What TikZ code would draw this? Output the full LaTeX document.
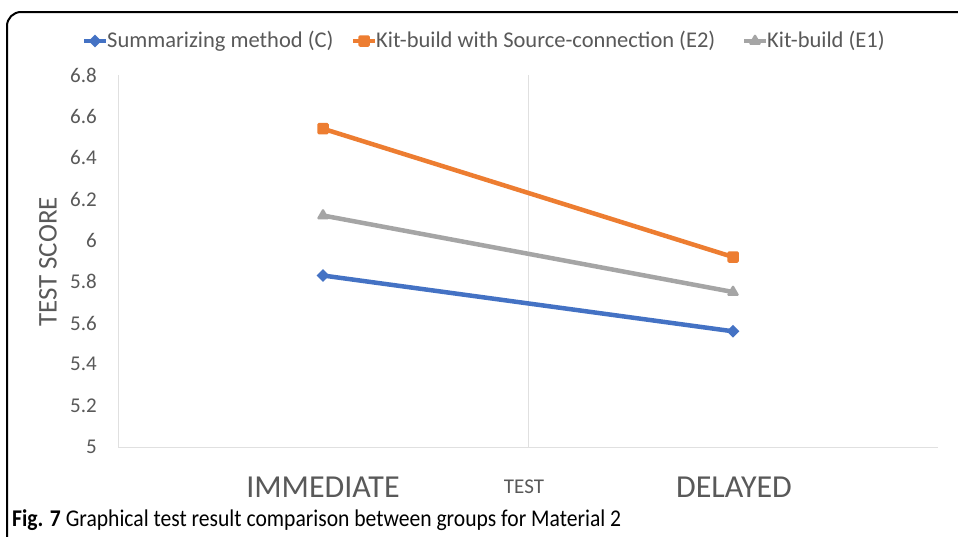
\documentclass[tikz,border=0pt]{standalone}
\usepackage{fontspec}
\setmainfont{Carlito}
\newfontfamily\capfont[FakeStretch=0.9]{Carlito}
\usetikzlibrary{shapes.geometric}
\definecolor{cblue}{HTML}{4472C4}
\definecolor{corange}{HTML}{ED7D31}
\definecolor{cgray}{HTML}{A5A5A5}
\definecolor{ctext}{HTML}{595959}
\definecolor{cgrid}{HTML}{E0E0E0}
\begin{document}
\begin{tikzpicture}[x=1pt,y=-1pt,
  tick/.style={anchor=east,text=ctext,font=\fontsize{21}{21}\selectfont,inner sep=0pt},
  series/.style={line width=4.5pt},
  mkdia/.style={diamond,fill=cblue,inner sep=0pt,minimum size=13pt},
  mksq/.style={rectangle,fill=corange,inner sep=0pt,minimum size=11.5pt,rounded corners=1.5pt},
  mktri/.style={regular polygon,regular polygon sides=3,fill=cgray,inner sep=0pt,minimum size=15pt,rounded corners=1.5pt},
  legtext/.style={anchor=west,text=ctext,font=\fontsize{22.5}{22.5}\selectfont,inner sep=0pt},
  cat/.style={text=ctext,font=\fontsize{32}{32}\selectfont,inner sep=0pt}]
\useasboundingbox (0,0) rectangle (958,536);
\fill[white] (0,0) rectangle (958,536);
% frame
\draw[line width=2pt,rounded corners=14pt] (975,12) -- (7,12) -- (7,560);
% plot area
\coordinate (pTL) at (118,75);
\coordinate (pBL) at (118,447);
\coordinate (pBR) at (938,447);
\coordinate (mTop) at (528,75);
\coordinate (mBot) at (528,447);
\draw[cgrid,line width=1pt] (pTL) -- (pBL) -- (pBR);
\draw[cgrid,line width=1pt] (mTop) -- (mBot);
% ticks
\node[tick] (t68) at (97,75) {6.8};
\node[tick] (t66) at (97,116.3) {6.6};
\node[tick] (t64) at (97,157.7) {6.4};
\node[tick] (t62) at (97,199) {6.2};
\node[tick] (t60) at (97,240.3) {6};
\node[tick] (t58) at (97,281.7) {5.8};
\node[tick] (t56) at (97,323) {5.6};
\node[tick] (t54) at (97,364.3) {5.4};
\node[tick] (t52) at (97,405.7) {5.2};
\node[tick] (t50) at (97,447) {5};
\node[rotate=90,text=ctext,font=\fontsize{27}{27}\selectfont,inner sep=0pt] (ytitle) at (48,262) {TEST SCORE};
% categories
\node[cat] (imm) at (323,487) {IMMEDIATE};
\node[cat] (del) at (734,487) {DELAYED};
\node[text=ctext,font=\fontsize{21}{21}\selectfont,inner sep=0pt] (xtitle) at (524,487) {TEST};
% data
\coordinate (o1) at (323,128.7);
\coordinate (o2) at (733,257);
\coordinate (g1) at (323,215.5);
\coordinate (g2) at (733,292);
\coordinate (b1) at (323,275.5);
\coordinate (b2) at (733,331.3);
\draw[series,cblue] (b1) -- (b2);
\draw[series,cgray] (g1) -- (g2);
\draw[series,corange] (o1) -- (o2);
\node[mkdia] (mb1) at (b1) {};
\node[mkdia] (mb2) at (b2) {};
\node[mktri] (mg1) at (g1) {};
\node[mktri] (mg2) at (g2) {};
\node[mksq] (mo1) at (o1) {};
\node[mksq] (mo2) at (o2) {};
% legend
\coordinate (lb1) at (84,41);
\coordinate (lb2) at (106,41);
\draw[series,cblue] (lb1) -- (lb2);
\node[mkdia] (lbm) at (95,41) {};
\node[legtext] (lbt) at (107,41) {Summarizing method (C)};
\coordinate (lo1) at (353,41);
\coordinate (lo2) at (375,41);
\draw[series,corange] (lo1) -- (lo2);
\node[mksq] (lom) at (364,41) {};
\node[legtext] (lot) at (376,41) {Kit-build with Source-connection (E2)};
\coordinate (lg1) at (744,41);
\coordinate (lg2) at (766,41);
\draw[series,cgray] (lg1) -- (lg2);
\node[mktri] (lgm) at (755,41) {};
\node[legtext] (lgt) at (767,41) {Kit-build (E1)};
% caption
\node[anchor=west,inner sep=0pt,font=\capfont\fontsize{24}{24}\selectfont,text=black] (cap) at (12,520) {\textbf{Fig. 7} Graphical test result comparison between groups for Material 2};
\end{tikzpicture}
\end{document}
